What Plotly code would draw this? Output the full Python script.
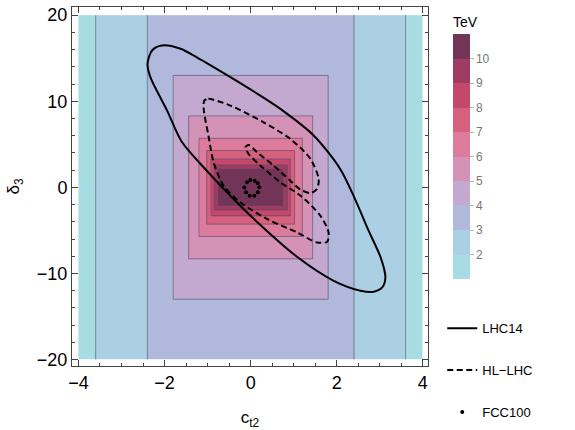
import plotly.graph_objects as go

# contour levels (TeV) and the half sizes of their rectangular bands
levels = [2, 3, 4, 5, 6, 7, 8, 9, 10]
half_width = [3.6, 2.4, 1.8, 1.44, 1.2, 1.02, 0.92, 0.845, 0.745]
half_height = [52, 23, 13.0, 8.3, 5.7, 4.27, 3.3, 2.6, 2.1]  # first two lie off the chart
band_colors = ['#a8dce3', '#abd0e3', '#b0b9dc', '#c3a9cf', '#d492b7',
               '#dc7b9b', '#d6617f', '#c3486c', '#a03c62', '#733557']

# LHC14 contour (solid)
lhc14_c = [-2.395, -2.29, -2.06, -1.63, -1.25, -0.47, 0.1, 0.69, 1.47, 2.08, 2.42, 2.74, 3.02,
           3.13, 3.06, 2.86, 2.55, 1.93, 1.1, 0.2, -0.47, -1.05, -1.6, -1.94, -2.33, -2.395]
lhc14_d = [14.35, 15.9, 16.48, 16.1, 15.1, 12.8, 11.05, 9.12, 6.0, 2.14, -1.3, -5.03, -8.14,
           -10.47, -11.6, -12.13, -12.0, -10.85, -8.15, -4.25, -0.97, 2.1, 5.3, 8.92, 12.8, 14.35]

# HL-LHC contour (dashed)
hl_c = [-1.077, -0.98, -0.47, 0.30, 0.92, 1.39, 1.58, 1.54, 1.39, 1.16, 0.92, 0.535, 0.15, -0.047,
        -0.12, -0.047, 0.23, 0.69, 1.16, 1.62, 1.81, 1.78, 1.54, 1.08, 0.38, -0.24, -0.63, -0.86,
        -0.98, -1.09, -1.077]
hl_d = [10.08, 10.28, 9.5, 7.56, 5.63, 3.30, 0.97, -0.19, -0.65, -0.27, 0.78, 2.52, 4.07, 4.93,
        4.65, 3.88, 2.52, 0.58, -0.97, -3.29, -5.23, -6.31, -6.4, -5.23, -3.67, -1.74, 0.2, 2.9,
        6.0, 9.1, 10.08]

# FCC100 contour (dotted)
fcc_c = [-0.084, -0.007, 0.093, 0.163, 0.20, 0.17, 0.086, -0.023, -0.107, -0.146]
fcc_d = [0.58, 0.86, 0.78, 0.47, 0.0, -0.58, -0.97, -0.97, -0.58, -0.03]

xmin, xmax, ymin, ymax = -4, 4, -20, 20

# band grid built from the rectangles
xe = sorted(set([xmin, xmax] + [s * w for w in half_width for s in (-1, 1)]))
ye = sorted(set([ymin, ymax] + [s * h for h in half_height if h < ymax for s in (-1, 1)]))
z = []
for j in range(len(ye) - 1):
    yc = (ye[j] + ye[j + 1]) / 2
    row = []
    for i in range(len(xe) - 1):
        xc = (xe[i] + xe[i + 1]) / 2
        nx = sum(abs(xc) < w for w in half_width)
        ny = sum(abs(yc) < h for h in half_height)
        row.append(1.5 + min(nx, ny))
    z.append(row)

cscale = []
for k, col in enumerate(band_colors):
    cscale += [[k / 10, col], [(k + 1) / 10, col]]

fig = go.Figure()
fig.add_trace(go.Heatmap(
    x=xe, y=ye, z=z, zmin=1, zmax=11, colorscale=cscale, hoverinfo='skip',
    colorbar=dict(
        title=dict(text='TeV', side='top', font=dict(size=14, color='black')),
        x=1.07, xanchor='left', xpad=0, y=0.242, yanchor='bottom', ypad=0,
        thickness=17, len=266, lenmode='pixels',
        tickvals=levels, ticks='outside', ticklen=4, tickcolor='#bbb',
        tickfont=dict(size=12, color='#777'), outlinewidth=0)))

# band outlines
ox, oy = [], []
for w, h in zip(half_width, half_height):
    if h < ymax:
        ox += [-w, w, w, -w, -w, None]
        oy += [-h, -h, h, h, -h, None]
    else:
        ox += [-w, -w, None, w, w, None]
        oy += [ymin, ymax, None, ymin, ymax, None]
fig.add_trace(go.Scatter(x=ox, y=oy, mode='lines', showlegend=False, hoverinfo='skip',
                         line=dict(color='rgba(70,70,95,0.55)', width=1)))

fig.add_trace(go.Scatter(x=lhc14_c, y=lhc14_d, mode='lines', name='LHC14', legendgroup='a',
                         line=dict(color='black', width=2, shape='spline', smoothing=0.8)))
fig.add_trace(go.Scatter(x=hl_c, y=hl_d, mode='lines', name='HL−LHC', legendgroup='b',
                         line=dict(color='black', width=2, dash='6px,3.5px', shape='spline',
                                   smoothing=0.8)))
fig.add_trace(go.Scatter(x=fcc_c, y=fcc_d, mode='markers', name='FCC100', legendgroup='c',
                         marker=dict(color='black', size=4)))

axis_common = dict(showline=True, linecolor='#444', linewidth=1, mirror='allticks',
                   ticks='inside', ticklen=6, tickcolor='#444', showgrid=False, zeroline=False,
                   automargin=False, tickfont=dict(size=18, color='black'))
fig.update_xaxes(range=[-4.15, 4.12], dtick=2, tick0=0,
                 minor=dict(dtick=0.5, ticks='inside', ticklen=3, tickcolor='#444'),
                 title=dict(text='c<sub>t2</sub>', font=dict(size=17, color='black'), standoff=22),
                 **axis_common)
fig.update_yaxes(range=[-20.75, 20.95], dtick=10, tick0=0,
                 minor=dict(dtick=2, ticks='inside', ticklen=3, tickcolor='#444'),
                 title=dict(text='δ<sub>3</sub>', font=dict(size=17, color='black'), standoff=12),
                 **axis_common)

fig.update_layout(
    width=575, height=430,
    margin=dict(l=72, r=147, t=7, b=64, autoexpand=False),
    paper_bgcolor='white', plot_bgcolor='white',
    font=dict(family='Liberation Sans, Arial, sans-serif', color='black'),
    legend=dict(x=1.04, xanchor='left', y=0.147, yanchor='top', tracegroupgap=22,
                font=dict(size=13, color='black'), bgcolor='rgba(0,0,0,0)'),
)

fig.write_html("out.html", config={'displayModeBar': False},
               post_script="document.body.style.margin='0px';")
